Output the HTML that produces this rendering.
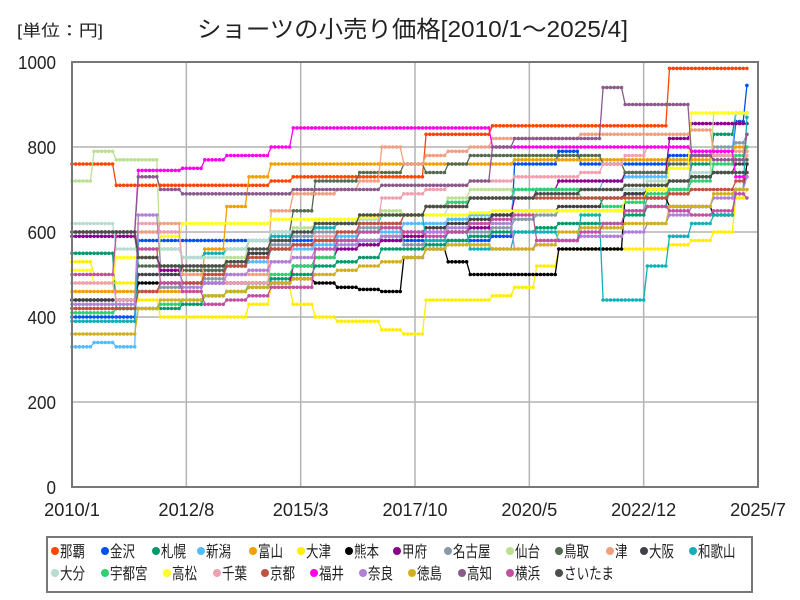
<!DOCTYPE html>
<html><head><meta charset="utf-8"><style>
body{margin:0;background:#fff;font-family:"Liberation Sans","Noto Sans CJK JP",sans-serif}
#wrap{position:relative;width:800px;height:600px}
</style></head><body>
<div id="wrap">
<svg id="svg" width="800" height="600" xmlns="http://www.w3.org/2000/svg" style="position:absolute;left:0;top:0" font-family="Liberation Sans, Noto Sans CJK JP, sans-serif">
<text x="17" y="36" font-size="16" fill="#222" textLength="86" lengthAdjust="spacingAndGlyphs">[単位：円]</text>
<text x="197" y="37" font-size="23" fill="#222" textLength="431" lengthAdjust="spacingAndGlyphs">ショーツの小売り価格[2010/1～2025/4]</text>
<g id="grid"></g><g id="series"></g><g id="axes"></g>
<rect x="47" y="537" width="705" height="55" fill="#fff" stroke="#777" stroke-width="2"/>
<g id="legend"></g>
</svg>
</div>
<script>
const months=[0,6,12,18,24,30,36,42,48,54,60,66,72,78,84,90,96,102,108,114,120,126,132,138,144,150,156,162,168,174,180,183];
const yTicks=[0,200,400,600,800,1000];
const xTickLabels=["2010/1","2012/8","2015/3","2017/10","2020/5","2022/12","2025/7"];
const xTickMonths=[0,31,62,93,124,155,186];
const names=["那覇","金沢","札幌","新潟","富山","大津","熊本","甲府","名古屋","仙台","鳥取","津","大阪","和歌山","大分","宇都宮","高松","千葉","京都","福井","奈良","徳島","高知","横浜","さいたま"];
const colors=["#ff4500","#0050f0","#009a6a","#55bbff","#f0a000","#ffee00","#000000","#8b008b","#8899aa","#bbe090","#556b50","#f0a080","#404048","#10b0b8","#b8dcd0","#30d070","#ffff20","#f0a0b0","#c05040","#ff00ee","#b080d8","#d0b020","#8a5a8a","#c050a0","#4a5048"];
const s_naha=[760,760,710,710,710,710,710,710,710,720,730,730,730,730,730,730,830,830,830,850,850,850,850,850,850,850,850,985,985,985,985,985];
const s_kanazawa=[400,400,400,580,580,580,580,580,580,580,580,580,580,580,580,580,580,580,580,590,760,760,790,760,760,760,760,780,780,780,860,945];
const s_sapporo=[550,550,420,420,420,430,450,460,470,490,500,520,530,540,560,560,570,580,590,600,600,610,620,620,620,640,660,700,760,830,880,880];
const s_niigata=[330,340,330,600,600,520,510,520,530,560,560,570,590,600,600,620,620,630,640,640,700,700,700,700,720,730,730,770,780,790,880,880];
const s_toyama=[460,460,460,460,460,460,560,660,730,760,760,760,760,760,760,760,760,760,760,760,770,770,770,770,770,770,770,770,770,790,800,770];
const s_otsu=[530,500,480,440,400,400,400,400,430,470,430,400,390,390,370,360,440,440,440,450,470,520,560,560,560,560,560,570,580,600,680,700];
const s_kumamoto=[440,440,440,480,480,480,480,480,480,480,490,480,470,465,460,540,560,530,500,500,500,500,560,560,560,690,680,660,660,640,700,760];
const s_kofu=[590,590,590,540,510,480,480,480,480,480,520,540,560,570,580,590,600,600,610,640,680,700,720,720,720,740,740,820,855,855,855,855];
const s_nagoya=[420,420,420,460,470,480,490,520,550,570,590,600,600,610,610,570,580,600,600,610,630,640,650,650,650,650,680,700,780,800,810,830];
const s_sendai=[720,790,770,770,520,500,520,540,580,590,610,620,620,640,650,640,660,680,700,700,680,690,700,700,700,700,720,720,730,880,880,880];
const s_tottori=[600,600,600,520,520,510,510,520,540,600,650,720,720,740,740,760,740,760,780,780,780,780,780,780,760,740,740,760,780,780,770,770];
const s_tsu=[480,480,600,600,620,500,500,500,500,650,690,690,700,720,800,760,780,790,800,820,820,820,820,830,830,830,830,830,840,790,790,790];
const s_osaka=[440,440,440,500,500,520,520,530,550,560,570,580,580,580,590,600,610,620,630,640,650,650,660,660,680,690,700,720,730,740,760,760];
const s_wakayama=[390,390,390,560,560,540,550,560,580,590,600,610,620,620,640,640,580,600,560,560,600,600,580,640,440,440,520,590,620,640,700,870];
const s_oita=[620,620,560,560,560,540,540,560,580,600,600,620,620,630,640,640,640,660,680,680,680,690,700,700,700,700,720,720,740,760,780,780];
const s_utsunomiya=[410,410,420,420,430,440,450,460,480,500,520,540,580,600,620,640,660,670,680,680,700,700,700,680,660,670,690,700,720,760,780,800];
const s_takamatsu=[510,480,540,540,590,620,620,620,620,630,630,630,630,635,640,640,640,640,645,650,650,650,650,650,650,680,700,750,880,880,880,880];
const s_chiba=[480,480,440,620,600,520,500,480,480,530,570,590,600,620,680,690,700,710,720,720,730,730,730,740,760,780,800,800,790,780,770,780];
const s_kyoto=[420,420,420,460,480,480,500,520,540,560,570,580,600,620,620,640,660,660,680,680,680,680,680,680,680,680,680,690,700,700,720,740];
const s_fukui=[600,600,600,745,745,750,770,780,780,800,845,845,845,845,845,845,845,845,845,800,800,800,800,800,800,800,800,800,790,790,730,730];
const s_nara=[430,430,430,640,520,470,480,500,510,530,540,560,570,580,590,600,600,610,620,620,560,580,580,590,590,600,620,640,660,680,700,730];
const s_tokushima=[360,360,360,420,440,440,450,460,470,480,490,500,510,520,530,540,560,570,570,560,560,570,600,610,610,620,620,660,660,690,700,700];
const s_kochi=[600,600,600,730,700,690,690,690,690,690,700,700,700,700,710,710,710,710,720,800,820,820,820,820,940,900,900,900,780,770,770,830];
const s_yokohama=[500,500,600,560,480,460,430,440,450,470,470,560,580,600,610,600,590,600,620,630,640,580,580,600,620,650,660,650,640,650,690,680];
const s_saitama=[600,600,600,540,520,520,520,530,560,580,600,620,620,640,640,640,660,660,680,680,680,690,690,700,700,710,710,720,730,740,740,740];
const seriesList=[s_naha,s_kanazawa,s_sapporo,s_niigata,s_toyama,s_otsu,s_kumamoto,s_kofu,s_nagoya,s_sendai,s_tottori,s_tsu,s_osaka,s_wakayama,s_oita,s_utsunomiya,s_takamatsu,s_chiba,s_kyoto,s_fukui,s_nara,s_tokushima,s_kochi,s_yokohama,s_saitama];

const NS="http://www.w3.org/2000/svg";
const X0=72,X1=758,Y0=487,Y1=62,MMAX=186,VMAX=1000;
const xs=m=>X0+(X1-X0)*m/MMAX;
const ys=v=>Y0-(Y0-Y1)*v/VMAX;
function mk(t,a){const e=document.createElementNS(NS,t);for(const k in a)e.setAttribute(k,a[k]);return e;}
const grid=document.getElementById('grid'),axes=document.getElementById('axes'),sg=document.getElementById('series'),lg=document.getElementById('legend');
yTicks.forEach(v=>{
  const l=mk('line',{x1:X0,x2:X1,y1:ys(v),y2:ys(v),stroke:'#b4b4b4','stroke-width':1.5});
  
  
  grid.appendChild(l);
  const s=String(v);
  const t=mk('text',{x:56,y:ys(v)+7,'text-anchor':'end','font-size':18,fill:'#222',textLength:s.length*9.5,lengthAdjust:'spacingAndGlyphs'});
  t.textContent=s;
  
  
  axes.appendChild(t);
});
xTickMonths.forEach((m,i)=>{
  const l=mk('line',{x1:xs(m),x2:xs(m),y1:Y1,y2:Y0,stroke:'#b4b4b4','stroke-width':1.5});
  
  
  grid.appendChild(l);
  const s=xTickLabels[i];
  const w=s.length*9.3;
  const t=mk('text',{x:xs(m)-w/2,y:516,'font-size':18,fill:'#222',textLength:w,lengthAdjust:'spacingAndGlyphs'});
  t.textContent=s;
  
  
  axes.appendChild(t);
});
const frame=mk('rect',{x:X0,y:Y1,width:X1-X0,height:Y0-Y1,fill:'none',stroke:'#777','stroke-width':2});


axes.appendChild(frame);

function valAt(arr,m){let v=arr[0];for(let i=0;i<months.length;i++){if(months[i]<=m)v=arr[i];}return v;}
seriesList.forEach((arr,si)=>{
  const g=mk('g',{});
  
  
  const pts=[];
  for(let m=0;m<=183;m++)pts.push([xs(m),ys(valAt(arr,m))]);
  const p=mk('polyline',{points:pts.map(q=>q[0].toFixed(1)+','+q[1].toFixed(1)).join(' '),fill:'none',stroke:colors[si],'stroke-width':1.3});
  
  
  g.appendChild(p);
  pts.forEach(q=>{
    const c=mk('circle',{cx:q[0].toFixed(1),cy:q[1].toFixed(1),r:1.8,fill:colors[si]});
    
    
    g.appendChild(c);
  });
  sg.appendChild(g);
});
const legendDotX=[55,105,156,201,253,301,349,397,448,510,559,610,644,693,55,105,167,217,265,314,363,412,462,510,559];
names.forEach((n,i)=>{
  const y=i<14?556:578;
  const x=legendDotX[i];
  const g=mk('g',{});
  
  
  const c=mk('circle',{cx:x,cy:y-5,r:4,fill:colors[i]});
  g.appendChild(c);
  const t=mk('text',{x:x+5,y:y+1,'font-size':16,fill:'#222',textLength:n.length*12.5,lengthAdjust:'spacingAndGlyphs'});
  t.textContent=n;
  g.appendChild(t);
  lg.appendChild(g);
});
</script>
</body></html>
